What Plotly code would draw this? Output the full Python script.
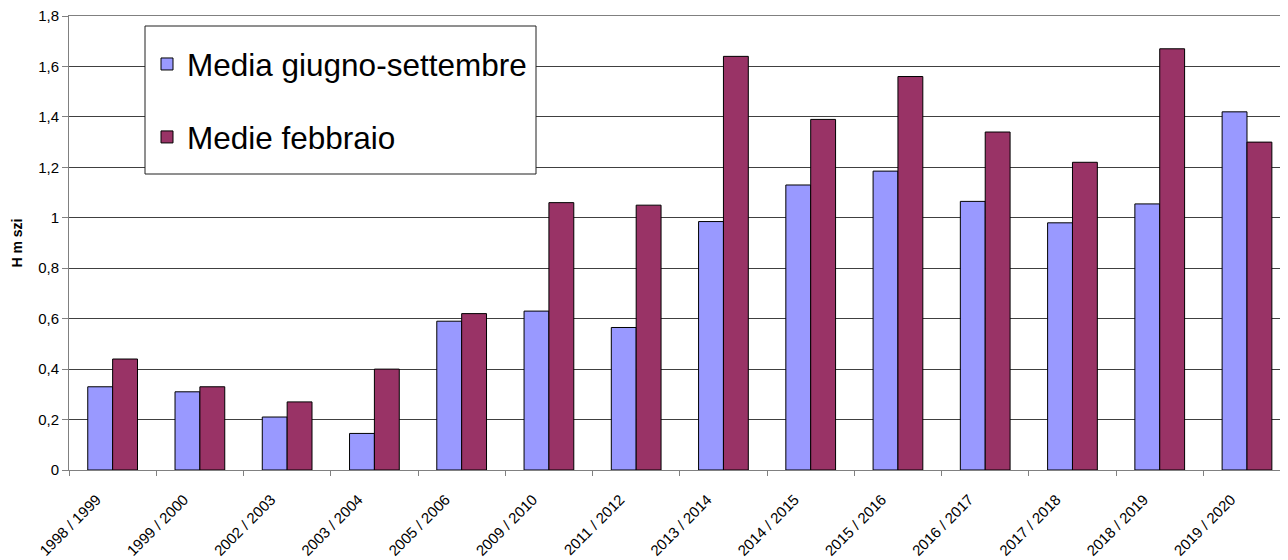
import plotly.graph_objects as go

categories = ["1998 / 1999", "1999 / 2000", "2002 / 2003", "2003 / 2004", "2005 / 2006",
              "2009 / 2010", "2011 / 2012", "2013 / 2014", "2014 / 2015", "2015 / 2016",
              "2016 / 2017", "2017 / 2018", "2018 / 2019", "2019 / 2020"]
media_giugno_settembre = [0.33, 0.31, 0.21, 0.145, 0.59, 0.63, 0.565, 0.985, 1.13, 1.185,
                          1.065, 0.98, 1.055, 1.42]
medie_febbraio = [0.44, 0.33, 0.27, 0.40, 0.62, 1.06, 1.05, 1.64, 1.39, 1.56,
                  1.34, 1.22, 1.67, 1.30]
y_tick_vals = [0, 0.2, 0.4, 0.6, 0.8, 1.0, 1.2, 1.4, 1.6, 1.8]
y_tick_text = ["0", "0,2", "0,4", "0,6", "0,8", "1", "1,2", "1,4", "1,6", "1,8"]

fig = go.Figure()
fig.add_trace(go.Bar(x=categories, y=media_giugno_settembre, name="Media giugno-settembre",
                     marker=dict(color="#9999FF", line=dict(color="black", width=1)),
                     legendgroup="a"))
fig.add_trace(go.Bar(x=categories, y=medie_febbraio, name="Medie febbraio",
                     marker=dict(color="#993366", line=dict(color="black", width=1)),
                     legendgroup="b"))

# plot area in window pixels: x 69..1288, y 16..470
TOP, BOT = 16, 470
PW, PH = 1219, BOT - TOP

# legend frame
fig.add_shape(type="rect", xref="paper", yref="paper",
              x0=(145 - 69) / PW, x1=(536 - 69) / PW,
              y0=(BOT - 174) / PH, y1=(BOT - 26) / PH,
              fillcolor="white", line=dict(color="#202020", width=1), layer="above")

fig.update_layout(
    width=1280, height=552,
    margin=dict(l=61, r=0, t=TOP - 8, b=90),
    plot_bgcolor="white", paper_bgcolor="white",
    barmode="group", bargap=0.43, bargroupgap=0,
    font=dict(family="Liberation Sans, Arial, sans-serif", color="black"),
    showlegend=True,
    legend=dict(x=(147 - 69) / PW, y=(BOT - 37) / PH, xanchor="left", yanchor="top",
                bgcolor="rgba(0,0,0,0)", borderwidth=0,
                font=dict(size=31.5), traceorder="grouped", tracegroupgap=29,
                itemwidth=30),
    xaxis=dict(type="category", range=[-0.5, 13.47], showgrid=False, automargin=False,
               showline=True, linecolor="#808080", linewidth=1, mirror=True,
               ticks="outside", tickson="boundaries", ticklen=5, tickcolor="#808080",
               tickangle=-45, tickfont=dict(size=15),
               ticklabelstandoff=14, ticklabelshift=-16),
    yaxis=dict(range=[0, 1.8], tickvals=y_tick_vals, ticktext=y_tick_text, automargin=False,
               showgrid=True, gridcolor="#404040", gridwidth=1,
               showline=True, linecolor="#808080", linewidth=1,
               ticks="outside", ticklen=6, tickcolor="#808080",
               tickfont=dict(size=15), zeroline=False, ticklabeloverflow="allow",
               title=dict(text="<b>H m szi</b>", font=dict(size=14), standoff=12)),
)

fig.write_html("out.html")
